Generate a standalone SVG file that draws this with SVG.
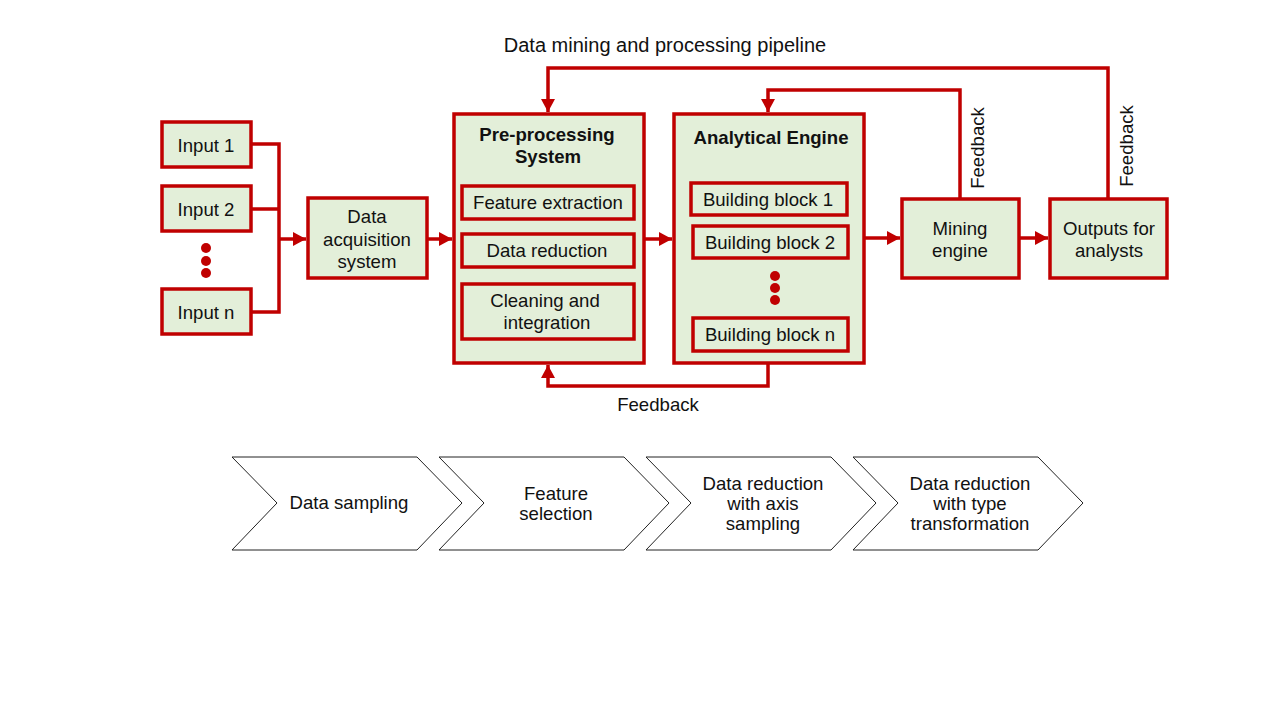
<svg xmlns="http://www.w3.org/2000/svg" width="1280" height="720" viewBox="0 0 1280 720">
<defs>
<marker id="ah" markerUnits="userSpaceOnUse" markerWidth="14" markerHeight="14" refX="13" refY="7" orient="auto">
<path d="M0,0 L13,7 L0,14 Z" fill="#C00000"/>
</marker>
<style>
.box{fill:#E3EFD9;stroke:#C00000;stroke-width:3.5}
.sub{fill:#E3EFD9;stroke:#C00000;stroke-width:3.5}
.t{font-family:"Liberation Sans",Arial,sans-serif;font-size:18.6px;fill:#111;text-anchor:middle}
.b{font-weight:bold}
.c{fill:none;stroke:#C00000;stroke-width:3.5}
.chev{fill:#fff;stroke:#222;stroke-width:1}
.dot{fill:#C00000}
</style>
</defs>
<rect width="1280" height="720" fill="#fff"/>
<text class="t" x="665" y="52" style="font-size:20px">Data mining and processing pipeline</text>

<g id="connectors">
<path class="c" d="M251,144 H279 V312 H251"/>
<path class="c" d="M251,209 H279"/>
<path class="c" d="M279,239 H306" marker-end="url(#ah)"/>
<path class="c" d="M427,239 H452" marker-end="url(#ah)"/>
<path class="c" d="M644,239 H672" marker-end="url(#ah)"/>
<path class="c" d="M864,238 H900" marker-end="url(#ah)"/>
<path class="c" d="M1019,238 H1048" marker-end="url(#ah)"/>
<path class="c" d="M768,363 V386 H548 V365" marker-end="url(#ah)"/>
<path class="c" d="M1108,199 V68 H548 V112" marker-end="url(#ah)"/>
<path class="c" d="M960,199 V90 H768 V112" marker-end="url(#ah)"/>
<text class="t" x="658" y="411">Feedback</text>
<text class="t" transform="translate(984,148) rotate(-90)">Feedback</text>
<text class="t" transform="translate(1133,146) rotate(-90)">Feedback</text>
</g>

<g id="input1"><rect class="box" x="162" y="122" width="89" height="45"/><text class="t" x="206" y="152">Input 1</text></g>
<g id="input2"><rect class="box" x="162" y="186" width="89" height="45"/><text class="t" x="206" y="216">Input 2</text></g>
<g id="inputdots"><circle class="dot" cx="206" cy="248" r="5"/><circle class="dot" cx="206" cy="261" r="5"/><circle class="dot" cx="206" cy="273" r="5"/></g>
<g id="inputn"><rect class="box" x="162" y="289" width="89" height="45"/><text class="t" x="206" y="319">Input n</text></g>

<g id="daq"><rect class="box" x="308" y="198" width="119" height="80"/>
<text class="t" x="367" y="223">Data</text><text class="t" x="367" y="246">acquisition</text><text class="t" x="367" y="268">system</text></g>

<g id="preproc"><rect class="box" x="454" y="114" width="190" height="249"/>
<text class="t b" x="547" y="141">Pre-processing</text><text class="t b" x="548" y="163">System</text>
<g id="featext"><rect class="sub" x="462" y="186" width="172" height="33"/><text class="t" x="548" y="209">Feature extraction</text></g>
<g id="datared"><rect class="sub" x="462" y="234" width="172" height="33"/><text class="t" x="547" y="257">Data reduction</text></g>
<g id="cleaning"><rect class="sub" x="462" y="284" width="172" height="55"/><text class="t" x="545" y="307">Cleaning and</text><text class="t" x="547" y="329">integration</text></g>
</g>

<g id="engine"><rect class="box" x="674" y="114" width="190" height="249"/>
<text class="t b" x="771" y="144">Analytical Engine</text>
<g id="bb1"><rect class="sub" x="691" y="183" width="156" height="32"/><text class="t" x="768" y="206">Building block 1</text></g>
<g id="bb2"><rect class="sub" x="693" y="226" width="155" height="32"/><text class="t" x="770" y="249">Building block 2</text></g>
<g id="bbdots"><circle class="dot" cx="775" cy="276" r="5"/><circle class="dot" cx="775" cy="288" r="5"/><circle class="dot" cx="775" cy="300" r="5"/></g>
<g id="bbn"><rect class="sub" x="693" y="318" width="155" height="33"/><text class="t" x="770" y="341">Building block n</text></g>
</g>

<g id="mining"><rect class="box" x="902" y="199" width="117" height="79"/>
<text class="t" x="960" y="235">Mining</text><text class="t" x="960" y="257">engine</text></g>
<g id="outputs"><rect class="box" x="1050" y="199" width="117" height="79"/>
<text class="t" x="1109" y="235">Outputs for</text><text class="t" x="1109" y="257">analysts</text></g>

<g id="chev1"><polygon class="chev" points="232,457 417,457 462,503 417,550 232,550 277,503"/><text class="t" x="349" y="509">Data sampling</text></g>
<g id="chev2"><polygon class="chev" points="439,457 624,457 669,503 624,550 439,550 484,503"/><text class="t" x="556" y="500">Feature</text><text class="t" x="556" y="520">selection</text></g>
<g id="chev3"><polygon class="chev" points="646,457 831,457 876,503 831,550 646,550 691,503"/><text class="t" x="763" y="490">Data reduction</text><text class="t" x="763" y="510">with axis</text><text class="t" x="763" y="530">sampling</text></g>
<g id="chev4"><polygon class="chev" points="853,457 1038,457 1083,503 1038,550 853,550 898,503"/><text class="t" x="970" y="490">Data reduction</text><text class="t" x="970" y="510">with type</text><text class="t" x="970" y="530">transformation</text></g>
</svg>
